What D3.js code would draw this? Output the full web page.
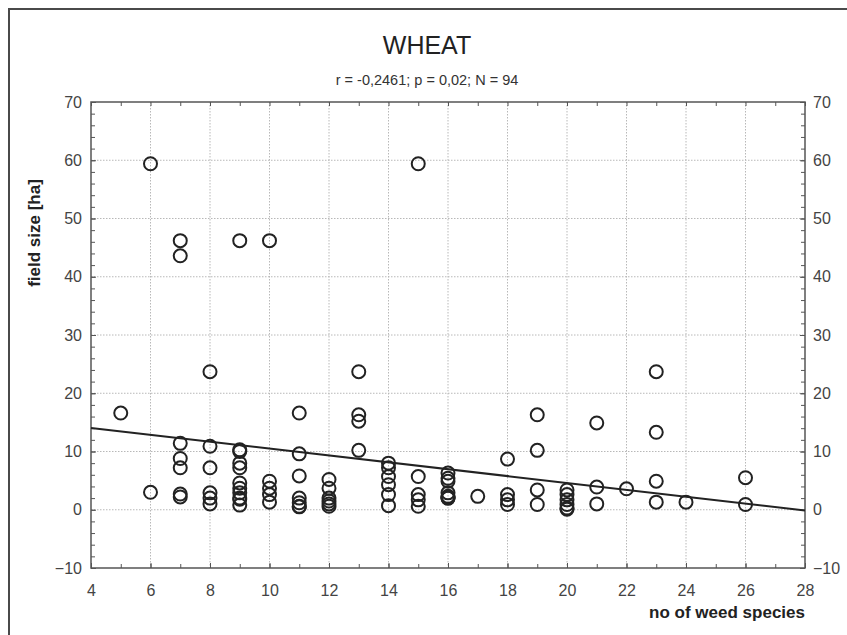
<!DOCTYPE html>
<html><head><meta charset="utf-8">
<script src="https://cdn.jsdelivr.net/npm/d3@7/dist/d3.min.js"></script>
<style>body{margin:0;background:#fff;} svg{display:block;font-family:"Liberation Sans",Arial,sans-serif;}</style>
</head><body>
<script>
// ---- data ----
const titleText = "WHEAT";
const subtitleText = "r = -0,2461; p = 0,02; N = 94";
const xLabel = "no of weed species";
const yLabel = "field size [ha]";
const weedSpecies = [5,
  6,6,
  7,7,7,7,7,7,7,
  8,8,8,8,8,8,
  9,9,9,9,9,9,9,9,9,9,9,
  10,10,10,10,10,
  11,11,11,11,11,11,11,
  12,12,12,12,12,12,
  13,13,13,13,
  14,14,14,14,14,14,
  15,15,15,15,15,
  16,16,16,16,16,16,16,16,
  17,
  18,18,18,18,
  19,19,19,19,
  20,20,20,20,20,20,
  21,21,21,
  22,
  23,23,23,23,
  24,
  26,26];
const fieldSize = [16.6,
  59.4,3.0,
  46.2,43.6,11.4,8.8,7.2,2.7,2.2,
  23.7,10.9,7.2,2.9,2.0,1.0,
  46.2,10.3,10.0,8.0,7.2,4.6,3.7,2.9,2.0,1.8,0.8,
  46.2,4.9,3.7,2.6,1.3,
  16.6,9.6,5.8,2.0,1.2,0.6,0.5,
  5.2,3.7,2.0,1.5,1.0,0.6,
  23.7,16.3,15.2,10.2,
  8.0,7.2,5.7,4.3,2.6,0.7,
  59.4,5.7,2.6,1.7,0.6,
  6.3,5.4,4.9,2.9,2.3,2.1,2.0,2.0,
  2.3,
  8.7,2.6,1.7,0.9,
  16.3,10.2,3.4,0.9,
  3.4,2.6,1.7,0.9,0.3,0.1,
  14.9,3.9,1.0,
  3.6,
  23.7,13.3,4.9,1.3,
  1.3,
  5.5,0.9];
const xTicks = [4,6,8,10,12,14,16,18,20,22,24,26,28];
const yTicks = [-10,0,10,20,30,40,50,60,70];
const xDomain = [4,28];
const yDomain = [-10,70];
const regIntercept = 16.4;
const regSlope = -0.59;

// ---- layout ----
const W = 847, H = 635;
const m = {left:91, right:42, top:102, bottom:67};
const svg = d3.select("body").append("svg").attr("width",W).attr("height",H);
const tickFont = "'Liberation Sans',Arial,sans-serif";

svg.append("rect").attr("x",9).attr("y",9).attr("width",W+10).attr("height",H+10)
  .attr("fill","none").attr("stroke","#4a4a4a").attr("stroke-width",2);

const x = d3.scaleLinear().domain(xDomain).range([m.left, W-m.right]);
const y = d3.scaleLinear().domain(yDomain).range([H-m.bottom, m.top]);
const x0 = x.range()[0], x1 = x.range()[1], y0 = y.range()[0], y1 = y.range()[1];

// title
svg.append("text").attr("x",427).attr("y",54).attr("text-anchor","middle")
  .attr("font-size",25).attr("fill","#222").attr("font-family",tickFont).text(titleText);
svg.append("text").attr("x",427).attr("y",85).attr("text-anchor","middle")
  .attr("font-size",14.5).attr("fill","#333").attr("font-family",tickFont).text(subtitleText);

// gridlines
const grid = svg.append("g").attr("stroke","#b8b8b8").attr("stroke-width",1).attr("stroke-dasharray","1.5,1.5");
xTicks.slice(1,-1).forEach(t=>grid.append("line").attr("x1",x(t)).attr("x2",x(t)).attr("y1",y1).attr("y2",y0));
yTicks.slice(1,-1).forEach(t=>grid.append("line").attr("y1",y(t)).attr("y2",y(t)).attr("x1",x0).attr("x2",x1));

// axes with inward ticks
const minorX = d3.range(xDomain[0], xDomain[1]+1, 1);
const minorY = d3.range(yDomain[0], yDomain[1]+1, 2);
const axStyle = g => { g.select(".domain").remove(); g.selectAll("line").attr("stroke","#555");
  g.selectAll("text").attr("fill","#444").attr("font-size",16).attr("font-family",tickFont); };

svg.append("g").attr("transform",`translate(0,${y0})`)
  .call(d3.axisBottom(x).tickValues(minorX).tickSize(-4).tickFormat(""))
  .call(axStyle);
svg.append("g").attr("transform",`translate(0,${y0})`)
  .call(d3.axisBottom(x).tickValues(xTicks).tickSize(-5).tickPadding(17).tickFormat(d3.format("d")))
  .call(axStyle);
svg.append("g").attr("transform",`translate(0,${y1})`)
  .call(d3.axisTop(x).tickValues(minorX).tickSize(-4).tickFormat(""))
  .call(axStyle);
svg.append("g").attr("transform",`translate(${x0},0)`)
  .call(d3.axisLeft(y).tickValues(minorY).tickSize(-4).tickFormat(""))
  .call(axStyle);
svg.append("g").attr("transform",`translate(${x0},0)`)
  .call(d3.axisLeft(y).tickValues(yTicks).tickSize(-5).tickPadding(9).tickFormat(d3.format("d")))
  .call(axStyle);
svg.append("g").attr("transform",`translate(${x1},0)`)
  .call(d3.axisRight(y).tickValues(minorY).tickSize(-4).tickFormat(""))
  .call(axStyle);
svg.append("g").attr("transform",`translate(${x1},0)`)
  .call(d3.axisRight(y).tickValues(yTicks).tickSize(-5).tickPadding(8).tickFormat(d3.format("d")))
  .call(axStyle);

// frame
svg.append("rect").attr("x",x0).attr("y",y1).attr("width",x1-x0).attr("height",y0-y1)
  .attr("fill","none").attr("stroke","#555").attr("stroke-width",1.5);

// points
const pts = weedSpecies.map((d,i)=>({x:d,y:fieldSize[i]}));
svg.append("g").selectAll("circle").data(pts).join("circle")
  .attr("cx",d=>x(d.x)).attr("cy",d=>y(d.y)).attr("r",6.5)
  .attr("fill","none").attr("stroke","#222").attr("stroke-width",2);

// regression line
svg.append("line")
  .attr("x1",x(xDomain[0])).attr("y1",y(regIntercept+regSlope*xDomain[0]))
  .attr("x2",x(xDomain[1])).attr("y2",y(regIntercept+regSlope*xDomain[1]))
  .attr("stroke","#222").attr("stroke-width",2);

// axis labels
svg.append("text").attr("x",x1).attr("y",618).attr("text-anchor","end")
  .attr("font-size",17).attr("font-weight","bold").attr("fill","#222").attr("font-family",tickFont).text(xLabel);
svg.append("text").attr("transform",`translate(40,${(y0+y1)/2 - 102}) rotate(-90)`)
  .attr("text-anchor","middle").attr("font-size",17).attr("font-weight","bold").attr("fill","#222").attr("font-family",tickFont).text(yLabel);
</script>
</body></html>
